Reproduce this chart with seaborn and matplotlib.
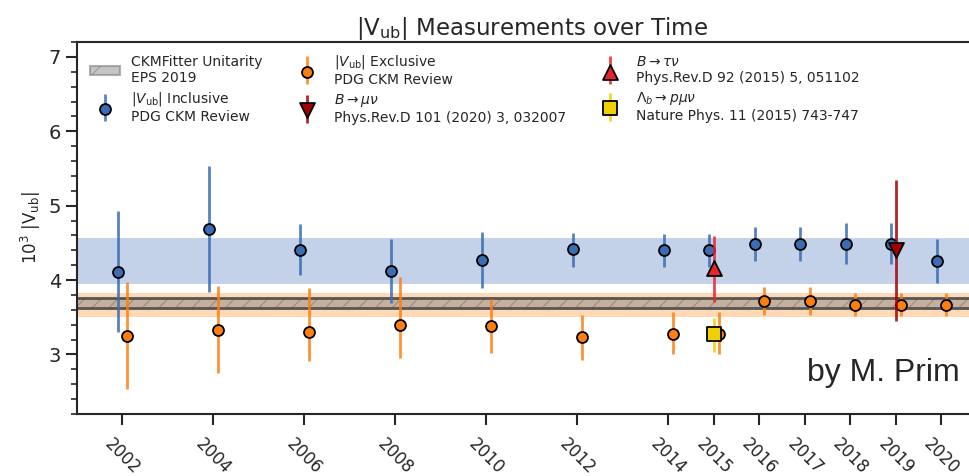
import numpy as np
import pandas as pd
import matplotlib
matplotlib.use("Agg")
import matplotlib.pyplot as plt
from matplotlib.patches import Rectangle
from matplotlib.container import ErrorbarContainer
from matplotlib.legend_handler import HandlerTuple, HandlerErrorbar
from matplotlib.ticker import MultipleLocator
import seaborn as sns

# |Vub| x 10^3, PDG CKM review, by edition year
years = [2002, 2004, 2006, 2008, 2010, 2012, 2014, 2015, 2016, 2017, 2018, 2019, 2020]
incl_val = [4.11, 4.68, 4.41, 4.12, 4.27, 4.42, 4.41, 4.41, 4.49, 4.49, 4.49, 4.49, 4.25]
incl_up = [0.82, 0.85, 0.34, 0.43, 0.38, 0.21, 0.21, 0.21, 0.23, 0.23, 0.28, 0.28, 0.30]
incl_dn = [0.81, 0.84, 0.34, 0.43, 0.38, 0.24, 0.24, 0.24, 0.23, 0.23, 0.28, 0.28, 0.29]
excl_val = [3.25, 3.33, 3.30, 3.40, 3.38, 3.23, 3.28, 3.28, 3.72, 3.72, 3.67, 3.67, 3.67]
excl_up = [0.72, 0.59, 0.60, 0.64, 0.36, 0.30, 0.29, 0.29, 0.19, 0.19, 0.15, 0.15, 0.15]
excl_dn = [0.71, 0.58, 0.39, 0.45, 0.36, 0.30, 0.28, 0.28, 0.19, 0.19, 0.15, 0.15, 0.15]

# Single measurements
taunu = dict(year=2015, val=4.16, up=0.43, dn=0.46)
munu = dict(year=2019, val=4.40, up=0.94, dn=0.95)
lambdab = dict(year=2015, val=3.27, up=0.22, dn=0.23)

# Averages drawn as horizontal bands
incl_band = (3.95, 4.56)
excl_band = (3.51, 3.82)
ckm_band = (3.62, 3.76)

tick_years = years

c_incl = "#3a6db4"
c_excl = "#ff7f0e"
c_tau = "#e8232b"
c_mu = "#a50000"
c_lb = "#f0d000"

sns.set_style("ticks")
plt.rcParams["font.family"] = ["DejaVu Sans"]
plt.rcParams["mathtext.fontset"] = "dejavusans"
plt.rcParams["hatch.linewidth"] = 0.8

fig = plt.figure(figsize=(9.69, 4.76), dpi=100)
ax = fig.add_axes([77 / 969, 1 - 414 / 476, 910 / 969, 372 / 476])

ax.axhspan(*incl_band, color=c_incl, alpha=0.3, lw=0, zorder=1)
ax.axhspan(*excl_band, color=c_excl, alpha=0.3, lw=0, zorder=1)
# CKMFitter band: hatched grey fill with dark boundary lines
ax.axhspan(*ckm_band, facecolor=(0.5, 0.5, 0.5, 0.45), edgecolor="#9c8a7e",
           lw=0, hatch="//", zorder=2)
for yb in ckm_band:
    ax.axhline(yb, color="#555555", lw=2, zorder=2)

dx = 0.1
df_incl = pd.DataFrame({"year": np.array(years) - dx, "val": incl_val})
df_excl = pd.DataFrame({"year": np.array(years) + dx, "val": excl_val})

ms = 62
eb_incl = ax.errorbar(df_incl["year"], df_incl["val"], yerr=[incl_dn, incl_up],
                      fmt="none", ecolor=c_incl, elinewidth=2, alpha=0.85, zorder=3)
eb_excl = ax.errorbar(df_excl["year"], df_excl["val"], yerr=[excl_dn, excl_up],
                      fmt="none", ecolor=c_excl, elinewidth=2, alpha=0.85, zorder=3)
sns.scatterplot(data=df_incl, x="year", y="val", ax=ax, color=c_incl,
                s=ms, edgecolor="black", linewidth=1.3, zorder=4, legend=False)
sns.scatterplot(data=df_excl, x="year", y="val", ax=ax, color=c_excl,
                s=ms, edgecolor="black", linewidth=1.3, zorder=4, legend=False)


def single(m, color, marker, size):
    eb = ax.errorbar([m["year"]], [m["val"]], yerr=[[m["dn"]], [m["up"]]],
                     fmt="none", ecolor=color, elinewidth=2, alpha=0.85, zorder=5)
    sns.scatterplot(x=[m["year"]], y=[m["val"]], ax=ax, color=color, marker=marker,
                    s=size, edgecolor="black", linewidth=1.3, zorder=6, legend=False)
    pt = ax.scatter([], [], color=color, marker=marker, s=size,
                    edgecolor="black", linewidth=1.3)
    return eb, pt


eb_tau, pt_tau = single(taunu, c_tau, "^", 115)
eb_mu, pt_mu = single(munu, c_mu, "v", 115)
eb_lb, pt_lb = single(lambdab, c_lb, "s", 100)

pt_incl = ax.scatter([], [], color=c_incl, s=ms, edgecolor="black", linewidth=1.3)
pt_excl = ax.scatter([], [], color=c_excl, s=ms, edgecolor="black", linewidth=1.3)
ckm_patch = Rectangle((0, 0), 1, 1, facecolor=(0.5, 0.5, 0.5, 0.45),
                      edgecolor=(0.5, 0.5, 0.5, 0.6), lw=1.5, hatch="/")

handles = [ckm_patch, (eb_incl, pt_incl), (eb_excl, pt_excl), (eb_mu, pt_mu),
           (eb_tau, pt_tau), (eb_lb, pt_lb)]
labels = ["CKMFitter Unitarity\nEPS 2019",
          "$|V_{\\rm ub}|$ Inclusive\nPDG CKM Review",
          "$|V_{\\rm ub}|$ Exclusive\nPDG CKM Review",
          "$B \\to \\mu\\nu$\nPhys.Rev.D 101 (2020) 3, 032007",
          "$B \\to \\tau\\nu$\nPhys.Rev.D 92 (2015) 5, 051102",
          "$\\Lambda_b \\to p\\mu\\nu$\nNature Phys. 11 (2015) 743-747"]
ax.legend(handles, labels, ncol=3, loc="upper left", bbox_to_anchor=(0.0, 1.005),
          frameon=False, fontsize=10, columnspacing=2.1, handlelength=2.2,
          labelspacing=0.35,
          handler_map={tuple: HandlerTuple(ndivide=1),
                       ErrorbarContainer: HandlerErrorbar(yerr_size=1.0)})

ax.set_xlim(2001, 2021)
ax.set_ylim(2.2, 7.2)
ax.set_xticks(tick_years)
ax.set_xticklabels([str(y) for y in tick_years], rotation=-45, fontsize=12)
ax.yaxis.set_major_locator(MultipleLocator(1))
ax.yaxis.set_minor_locator(MultipleLocator(0.2))
ax.tick_params(axis="y", which="major", labelsize=14, length=8, width=1.5)
ax.tick_params(axis="y", which="minor", length=4, width=1.2)
ax.tick_params(axis="x", which="major", length=8, width=1.5, pad=7)
for s in ax.spines.values():
    s.set_linewidth(1.5)

ax.set_xlabel("")
ax.set_ylabel("$10^3\\ |\\mathrm{V}_{\\rm ub}|$", fontsize=12)
ax.set_title("$|\\mathrm{V}_{\\rm ub}|$ Measurements over Time", fontsize=16.5, pad=4)
ax.text(0.970, 0.07, "by M. Prim", transform=ax.transAxes, fontsize=23,
        ha="right", va="bottom", family="Liberation Sans")

fig.savefig("out.png", dpi=100)
